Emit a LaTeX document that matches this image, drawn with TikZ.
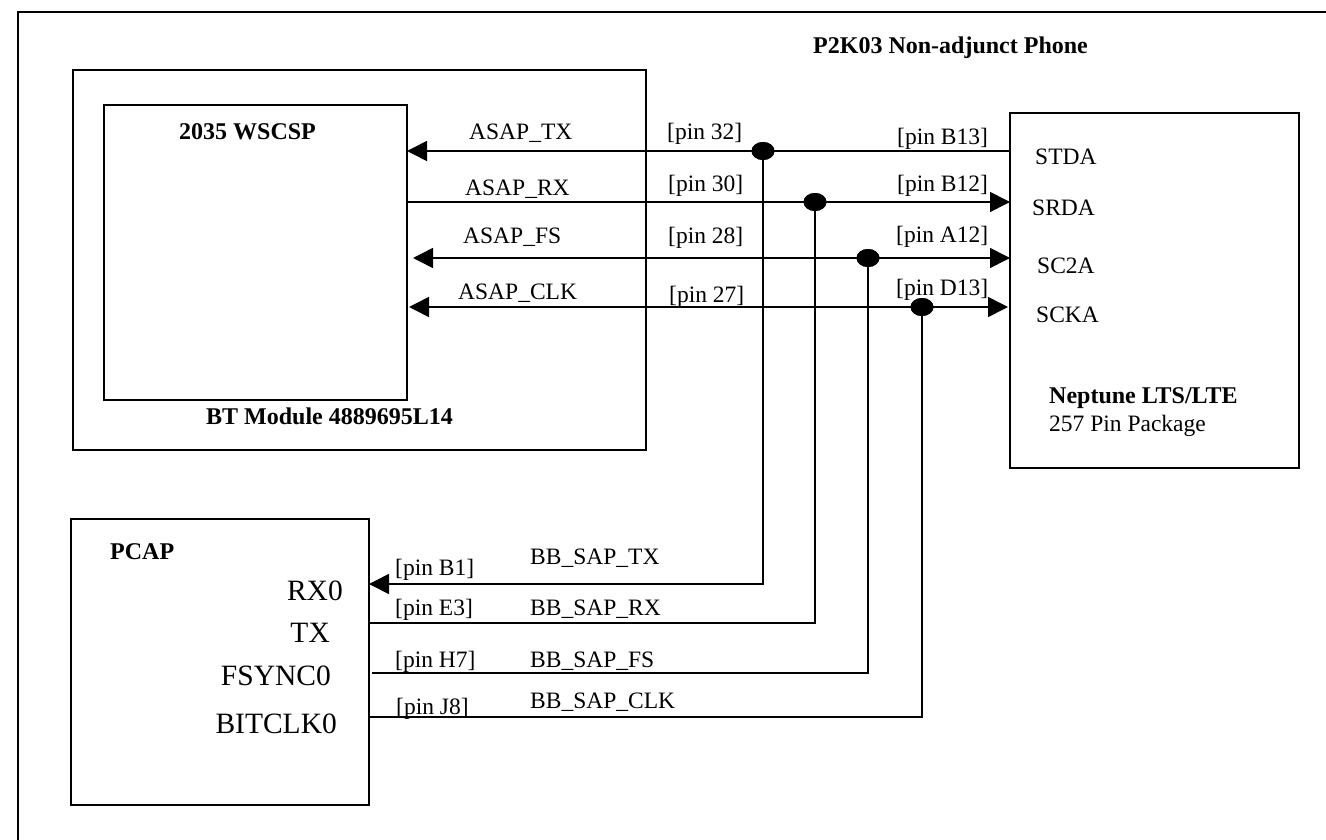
\documentclass[tikz,border=0pt]{standalone}
\usepackage{fontspec}
\setmainfont{Liberation Serif}
\usetikzlibrary{arrows.meta,shapes.geometric}
\begin{document}
\begin{tikzpicture}[x=1pt,y=-1pt,
  box/.style={draw, line width=1.6pt, inner sep=0pt, outer sep=0pt, anchor=north west},
  wire/.style={line width=1.6pt},
  tip/.style={-{Triangle[length=20pt,width=20pt]}},
  tips/.style={{Triangle[length=20pt,width=20pt]}-{Triangle[length=20pt,width=20pt]}},
  dot/.style={ellipse, fill=black, minimum width=23pt, minimum height=18pt, inner sep=0pt},
  lbl/.style={inner sep=0pt, anchor=base west, font=\fontsize{23.5}{28}\selectfont},
  blbl/.style={lbl, font=\fontsize{24}{28}\selectfont\bfseries},
  big/.style={inner sep=0pt, anchor=base east, font=\fontsize{29.5}{34}\selectfont}]
\useasboundingbox (0,0) rectangle (1326,840);
% frame (top and left only)
\coordinate (ftl) at (18,12);
\coordinate (ftr) at (1326,12);
\coordinate (fbl) at (18,840);
\draw[wire] (fbl) -- (ftl) -- (ftr);
% boxes
\node[box, minimum width=573pt, minimum height=380pt] (bt) at (73,70) {};
\node[box, minimum width=303pt, minimum height=295pt] (wscsp) at (104,105) {};
\node[box, minimum width=289pt, minimum height=355pt] (nep) at (1010,113) {};
\node[box, minimum width=298pt, minimum height=286pt] (pcap) at (71,519) {};
% junction dots
\node[dot] (dtx) at (763,151) {};
\node[dot] (drx) at (815,202) {};
\node[dot] (dfs) at (868,258) {};
\node[dot] (dclk) at (922,307) {};
% level coordinates
\coordinate (ytx) at (0,584);
\coordinate (yrx) at (0,623);
\coordinate (yfs) at (0,673);
\coordinate (yclk) at (0,717);
\coordinate (fsl) at (413,258);
\coordinate (clkl) at (409,307);
\coordinate (clkr) at (1008,307);
% horizontal connectors (top)
\draw[wire,tip] (nep.west |- dtx) -- (wscsp.east |- dtx);
\draw[wire,tip] (wscsp.east |- drx) -- (nep.west |- drx);
\draw[wire,tips] (fsl) -- (nep.west |- dfs);
\draw[wire,tips] (clkl) -- (clkr);
% drops to PCAP
\draw[wire,tip] (dtx.center) -- (dtx.center |- ytx) -- (pcap.east |- ytx);
\draw[wire] (drx.center) -- (drx.center |- yrx) -- (pcap.east |- yrx);
\draw[wire] (dfs.center) -- (dfs.center |- yfs) -- ([xshift=3pt]pcap.east |- yfs);
\draw[wire] (dclk.center) -- (dclk.center |- yclk) -- (pcap.east |- yclk);
% redraw dots on top
\node[dot] at (dtx) {};
\node[dot] at (drx) {};
\node[dot] at (dfs) {};
\node[dot] at (dclk) {};
% titles
\node[blbl] (ttl) at (813,54) {P2K03 Non-adjunct Phone};
\node[blbl] (twscsp) at (179,140) {2035 WSCSP};
\node[blbl] (tbt) at (206,424) {BT Module 4889695L14};
\node[blbl] (tnep) at (1049,403) {Neptune LTS/LTE};
\node[lbl] (tnep2) at (1049,431) {257 Pin Package};
\node[blbl] (tpcap) at (110,559) {PCAP};
% top signal labels
\node[lbl] (ltx) at (469,140) {ASAP\_TX};
\node[lbl] (lrx) at (465,196) {ASAP\_RX};
\node[lbl] (lfs) at (463,243) {ASAP\_FS};
\node[lbl] (lclk) at (458,299) {ASAP\_CLK};
\node[lbl] (p32) at (667,140) {[pin 32]};
\node[lbl] (p30) at (668,191) {[pin 30]};
\node[lbl] (p28) at (668,243) {[pin 28]};
\node[lbl] (p27) at (669,302) {[pin 27]};
\node[lbl] (pb13) at (897,145) {[pin B13]};
\node[lbl] (pb12) at (897,191) {[pin B12]};
\node[lbl] (pa12) at (896,242) {[pin A12]};
\node[lbl] (pd13) at (896,295) {[pin D13]};
% Neptune pins
\node[lbl] (stda) at (1035,165) {STDA};
\node[lbl] (srda) at (1032,215) {SRDA};
\node[lbl] (sc2a) at (1037,273) {SC2A};
\node[lbl] (scka) at (1036,322) {SCKA};
% PCAP pins
\node[big] (rx0) at (343,600) {RX0};
\node[big] (ptx) at (330,642) {TX};
\node[big] (fsync) at (331,685) {FSYNC0};
\node[big] (bitclk) at (337,733) {BITCLK0};
% bottom labels
\node[lbl] (pb1) at (395,575) {[pin B1]};
\node[lbl] (pe3) at (395,615) {[pin E3]};
\node[lbl] (ph7) at (395,667) {[pin H7]};
\node[lbl] (pj8) at (396,714) {[pin J8]};
\node[lbl] (bbtx) at (530,564) {BB\_SAP\_TX};
\node[lbl] (bbrx) at (530,615) {BB\_SAP\_RX};
\node[lbl] (bbfs) at (530,667) {BB\_SAP\_FS};
\node[lbl] (bbclk) at (530,708) {BB\_SAP\_CLK};
\end{tikzpicture}
\end{document}
